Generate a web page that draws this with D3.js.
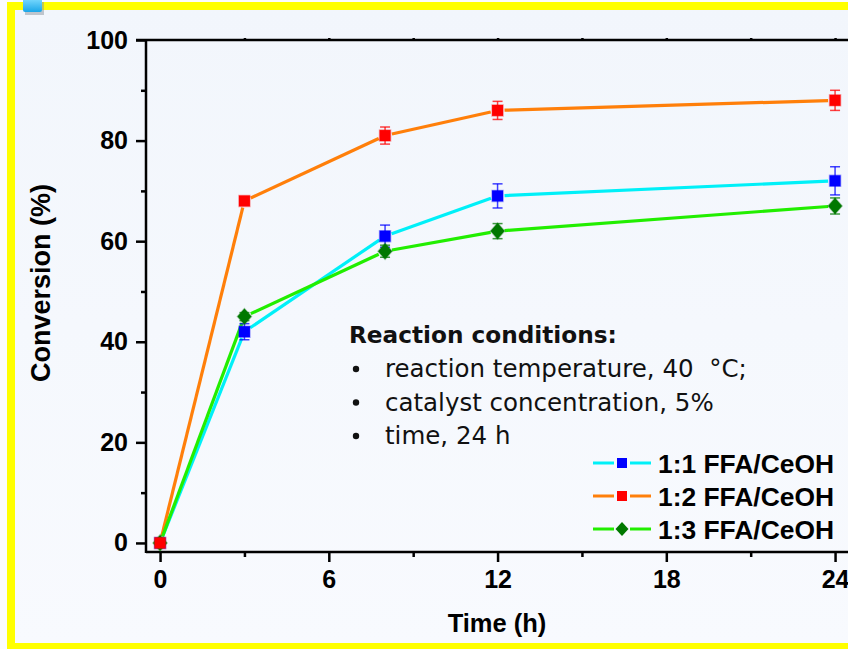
<!DOCTYPE html>
<html lang="en">

<head>
    <meta charset="utf-8">
    <title>conversion vs time</title>
    <script src="https://cdn.jsdelivr.net/npm/d3@7"></script>
</head>
<style>
    body {
        margin: 0;
        background: #fbfcfe;
    }

    .axis path,
    .axis line {
        fill: none;
        stroke: black;
        stroke-width: 2.5;
    }

    .axis text {
        font-family: "Liberation Sans", Arial, sans-serif;
        font-weight: bold;
        font-size: 25px;
        fill: black;
    }
</style>

<body>
    <script>
        // data
        var times = [0, 3, 8, 12, 24];
        var ratio11 = [0, 42, 61, 69, 72];
        var err11 = [0, 1.6, 2.2, 2.4, 2.8];
        var ratio12 = [0, 68, 81, 86, 88];
        var err12 = [0, 0, 1.7, 1.8, 2.0];
        var ratio13 = [0, 45, 58, 62, 67];
        var err13 = [0, 0.8, 1.2, 1.5, 1.6];
        var seriesNames = ["1:1 FFA/CeOH", "1:2 FFA/CeOH", "1:3 FFA/CeOH"];
        var xTicks = [0, 6, 12, 18, 24];
        var yTicks = [0, 20, 40, 60, 80, 100];
        var conditions = ["reaction temperature, 40 \u00b0C;", "catalyst concentration, 5%", "time, 24 h"];

        var width = 848, height = 649;

        var series = [
            { name: seriesNames[0], values: ratio11, err: err11, line: "#00f0f8", mark: "#0000ff", shape: "square" },
            { name: seriesNames[1], values: ratio12, err: err12, line: "#ff7f0a", mark: "#ff0000", shape: "square" },
            { name: seriesNames[2], values: ratio13, err: err13, line: "#22ee00", mark: "#007800", shape: "diamond" }
        ];

        var x = d3.scaleLinear().domain([-0.5, 25]).range([146, 146 + 25.5 * 28.125]);
        var y = d3.scaleLinear().domain([-1.8, 100]).range([552, 40]);

        var svg = d3.select("body")
            .append("svg")
            .attr("width", width)
            .attr("height", height);

        var grad = svg.append("defs").append("linearGradient")
            .attr("id", "bg").attr("x1", 0).attr("y1", 0).attr("x2", 0).attr("y2", 1);
        grad.append("stop").attr("offset", 0).attr("stop-color", "#f2f6fc");
        grad.append("stop").attr("offset", 1).attr("stop-color", "#f8fafe");

        var icon = svg.select("defs").append("linearGradient")
            .attr("id", "icon").attr("x1", 0).attr("y1", 0).attr("x2", 0).attr("y2", 1);
        icon.append("stop").attr("offset", 0).attr("stop-color", "#7fdcff");
        icon.append("stop").attr("offset", 1).attr("stop-color", "#1aa6e8");

        // frame
        svg.append("rect")
            .attr("x", 11).attr("y", 6)
            .attr("width", 850).attr("height", 641)
            .attr("fill", "url(#bg)")
            .attr("stroke", "#ffff00")
            .attr("stroke-width", 8);

        svg.append("rect")
            .attr("x", 25).attr("y", 2).attr("width", 19).attr("height", 13)
            .attr("fill", "#8a939d").attr("opacity", 0.5);
        svg.append("rect")
            .attr("x", 23).attr("y", -2).attr("width", 19).attr("height", 14)
            .attr("rx", 2)
            .attr("fill", "url(#icon)");

        // axes
        svg.append("g")
            .attr("class", "axis")
            .attr("transform", "translate(0,552)")
            .call(d3.axisBottom(x).tickValues(xTicks).tickSize(10).tickPadding(8).tickSizeOuter(0))
            .call(g => g.select(".domain").attr("d", "M146,0H860"));

        svg.append("g")
            .attr("class", "axis")
            .attr("transform", "translate(0,552)")
            .call(d3.axisBottom(x).tickValues([3, 9, 15, 21]).tickSize(5).tickFormat(""))
            .call(g => g.select(".domain").remove());

        svg.append("g")
            .attr("class", "axis")
            .attr("transform", "translate(146,0)")
            .call(d3.axisLeft(y).tickValues(yTicks).tickSize(10).tickPadding(8).tickSizeOuter(0))
            .call(g => g.select(".domain").attr("d", "M0,40V553"));

        svg.append("g")
            .attr("class", "axis")
            .attr("transform", "translate(146,0)")
            .call(d3.axisLeft(y).tickValues([10, 30, 50, 70, 90]).tickSize(5).tickFormat(""))
            .call(g => g.select(".domain").remove());

        svg.append("g")
            .attr("class", "axis")
            .attr("transform", "translate(0,40)")
            .call(d3.axisTop(x).tickValues([3, 6, 9, 12, 15, 18, 21, 24]).tickSize(2).tickFormat(""))
            .call(g => g.select(".domain").attr("d", "M136,0H860"));

        // axis titles
        svg.append("text")
            .attr("x", 497).attr("y", 632)
            .attr("text-anchor", "middle")
            .attr("font-family", "Liberation Sans, Arial, sans-serif")
            .attr("font-weight", "bold")
            .attr("font-size", 25.5)
            .text("Time (h)");

        svg.append("text")
            .attr("transform", "translate(50,283) rotate(-90)")
            .attr("text-anchor", "middle")
            .attr("font-family", "Liberation Sans, Arial, sans-serif")
            .attr("font-weight", "bold")
            .attr("font-size", 27)
            .text("Conversion (%)");

        // lines, shortened a little at each marker like Origin does
        var gap = 7;
        series.forEach(function (s) {
            var pts = times.map((t, i) => [x(t), y(s.values[i])]);
            var segs = d3.pairs(pts).map(function (p) {
                var dx = p[1][0] - p[0][0], dy = p[1][1] - p[0][1];
                var len = Math.sqrt(dx * dx + dy * dy);
                var k = gap / len;
                return [[p[0][0] + dx * k, p[0][1] + dy * k], [p[1][0] - dx * k, p[1][1] - dy * k]];
            });
            svg.append("g")
                .selectAll("line")
                .data(segs)
                .join("line")
                .attr("x1", d => d[0][0]).attr("y1", d => d[0][1])
                .attr("x2", d => d[1][0]).attr("y2", d => d[1][1])
                .attr("stroke", s.line)
                .attr("stroke-width", 3.2);
        });

        var square = d3.symbol().type(d3.symbolSquare).size(121);
        var diamond = "M0,-8L7,0L0,8L-7,0Z";

        [series[0], series[2], series[1]].forEach(function (s) {
            var pts = times.map((t, i) => ({ t: t, v: s.values[i], e: s.err[i] }));
            var eb = svg.append("g")
                .attr("stroke", s.mark)
                .attr("stroke-width", 1.5)
                .attr("stroke-opacity", 0.75)
                .selectAll("g")
                .data(pts.filter(d => d.e > 0))
                .join("g");
            eb.append("line")
                .attr("x1", d => x(d.t)).attr("x2", d => x(d.t))
                .attr("y1", d => y(d.v + d.e)).attr("y2", d => y(d.v - d.e));
            eb.append("line")
                .attr("x1", d => x(d.t) - 5).attr("x2", d => x(d.t) + 5)
                .attr("y1", d => y(d.v + d.e)).attr("y2", d => y(d.v + d.e));
            eb.append("line")
                .attr("x1", d => x(d.t) - 5).attr("x2", d => x(d.t) + 5)
                .attr("y1", d => y(d.v - d.e)).attr("y2", d => y(d.v - d.e));

            svg.append("g")
                .selectAll("path")
                .data(pts)
                .join("path")
                .attr("transform", d => `translate(${x(d.t)},${y(d.v)})`)
                .attr("d", s.shape == "square" ? square : diamond)
                .attr("fill", s.mark)
                .attr("stroke", s.mark)
                .attr("stroke-opacity", 0.35)
                .attr("stroke-width", 1.5);
        });

        // reaction conditions note
        var note = svg.append("g")
            .attr("font-family", "DejaVu Sans, sans-serif")
            .attr("font-size", 24.5)
            .attr("fill", "#111");
        note.append("text")
            .attr("x", 349).attr("y", 343)
            .attr("font-weight", "bold")
            .attr("font-size", 23.2)
            .text("Reaction conditions:");
        note.selectAll("text.item")
            .data(conditions)
            .join("text")
            .attr("class", "item")
            .attr("x", 385)
            .attr("y", (d, i) => 377 + i * 33.5)
            .attr("xml:space", "preserve")
            .text(d => d.replace(" \u00b0", "  \u00b0"));
        note.selectAll("circle")
            .data(conditions)
            .join("circle")
            .attr("cx", 356)
            .attr("cy", (d, i) => 369 + i * 33.5)
            .attr("r", 3.2);

        // legend
        var legend = svg.append("g")
            .selectAll("g")
            .data(series)
            .join("g")
            .attr("transform", (d, i) => `translate(622,${463 + i * 33})`);
        legend.append("line")
            .attr("x1", -29).attr("x2", -8)
            .attr("stroke", d => d.line).attr("stroke-width", 3);
        legend.append("line")
            .attr("x1", 8).attr("x2", 29)
            .attr("stroke", d => d.line).attr("stroke-width", 3);
        legend.append("path")
            .attr("d", d => d.shape == "square" ? d3.symbol().type(d3.symbolSquare).size(100)() : "M0,-7L6.5,0L0,7L-6.5,0Z")
            .attr("fill", d => d.mark);
        legend.append("text")
            .attr("x", 36)
            .attr("dy", "0.36em")
            .attr("font-family", "Liberation Sans, Arial, sans-serif")
            .attr("font-weight", "bold")
            .attr("font-size", 26.4)
            .text(d => d.name);
    </script>
</body>

</html>
